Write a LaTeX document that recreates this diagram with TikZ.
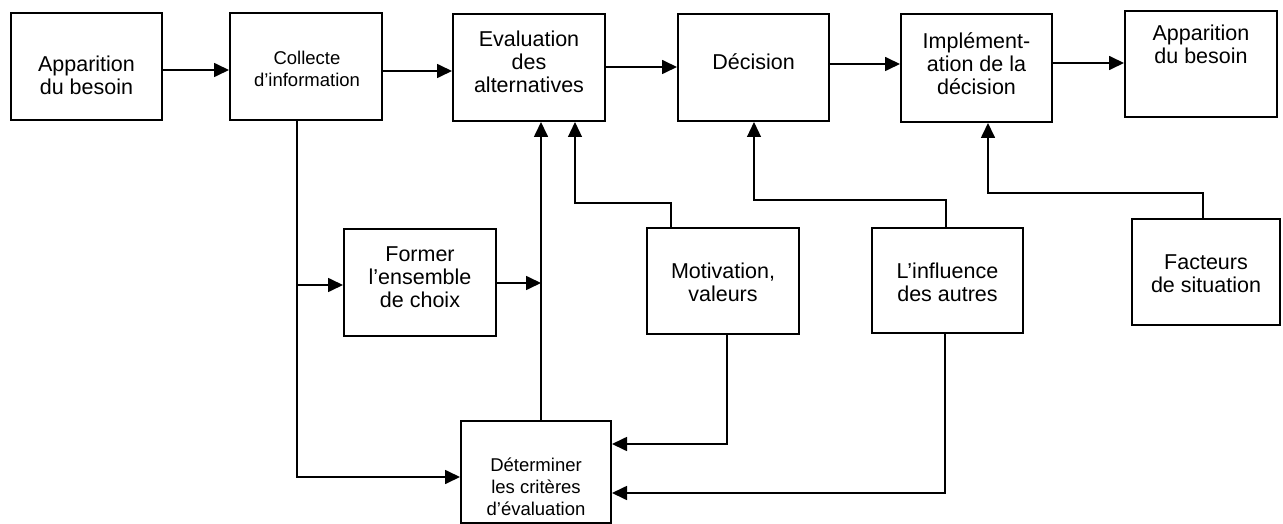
\documentclass[tikz,border=0pt]{standalone}
\usepackage{fontspec}
\setmainfont{Liberation Sans}
\usetikzlibrary{arrows.meta}
\tikzset{
  box/.style={draw=black, line width=2pt, rectangle, inner sep=0pt},
  txt/.style={align=center, inner sep=0pt, font=\fontsize{21.5}{23}\selectfont},
  smalltxt/.style={align=center, inner sep=0pt, font=\fontsize{18.5}{22}\selectfont},
  conn/.style={line width=1.7pt, -{Triangle[length=15pt,width=14pt]}},
  thinconn/.style={line width=1.2pt, -{Triangle[length=15pt,width=14pt]}}
}
\begin{document}
\begin{tikzpicture}[x=1pt,y=-1pt]
\useasboundingbox (0,0) rectangle (1283,524);
\fill[white] (0,0) rectangle (1283,524);

% boxes
\node[box, minimum width=151, minimum height=107] (A1) at (86.5,66.5) {};
\node[box, minimum width=152, minimum height=107] (C)  at (306,66.5) {};
\node[box, minimum width=152, minimum height=107] (E)  at (529,67.5) {};
\node[box, minimum width=151, minimum height=107] (D)  at (753.5,67.5) {};
\node[box, minimum width=151, minimum height=108] (I)  at (976.5,68) {};
\node[box, minimum width=152, minimum height=106] (A2) at (1201,64) {};
\node[box, minimum width=152, minimum height=107] (F)  at (420,282.5) {};
\node[box, minimum width=152, minimum height=106] (M)  at (723,281) {};
\node[box, minimum width=151, minimum height=105] (L)  at (947.5,280.5) {};
\node[box, minimum width=148, minimum height=106] (Fa) at (1206,272) {};
\node[box, minimum width=150, minimum height=102] (Dt) at (536,472) {};

% texts
\node[txt] (A1t) at (86.5,75) {Apparition\\du besoin};
\node[smalltxt] (Ct) at (307,69) {Collecte\\d’information};
\node[txt] (Et) at (529,62) {Evaluation\\des\\alternatives};
\node[txt] (Dtx) at (753.5,62) {Décision};
\node[txt] (It) at (976.5,64) {Implément-\\ation de la\\décision};
\node[txt] (A2t) at (1201,44) {Apparition\\du besoin};
\node[txt] (Ft) at (420,277) {Former\\l’ensemble\\de choix};
\node[txt] (Mt) at (723,282) {Motivation,\\valeurs};
\node[txt] (Lt) at (947.5,282) {L’influence\\des autres};
\node[txt] (Fat) at (1206,274) {Facteurs\\de situation};
\node[smalltxt] (Dtt) at (536,487) {Déterminer\\les critères\\d’évaluation};

% helper coordinates
\coordinate (r1) at (0,70);
\coordinate (r2) at (0,71);
\coordinate (r3) at (0,67);
\coordinate (r4) at (0,64);
\coordinate (r5) at (0,63);
\coordinate (c1) at (297,0);
\coordinate (f1) at (0,285);
\coordinate (c3) at (0,477);
\coordinate (f2) at (0,283);
\coordinate (v1) at (541,0);
\coordinate (m1) at (671,0);
\coordinate (e2) at (575,203);
\coordinate (m2) at (727,0);
\coordinate (m3) at (0,444);
\coordinate (l1) at (946,0);
\coordinate (d1) at (754,200);
\coordinate (l2) at (945,0);
\coordinate (l3) at (0,493);
\coordinate (fa1) at (1203,0);
\coordinate (i1) at (988,193);

% top row
\draw[conn] (A1.east |- r1) -- (C.west |- r1);
\draw[conn] (C.east |- r2) -- (E.west |- r2);
\draw[conn] (E.east |- r3) -- (D.west |- r3);
\draw[conn] (D.east |- r4) -- (I.west |- r4);
\draw[conn] (I.east |- r5) -- (A2.west |- r5);

% collecte branch
\draw[conn] (C.south -| c1) |- (c3 -| Dt.west);
\draw[conn] (c1 |- f1) -- (F.west |- f1);
\draw[conn] (F.east |- f2) -- (v1 |- f2);
\draw[conn] (Dt.north -| v1) -- (E.south -| v1);

% motivation
\draw[thinconn] (M.north -| m1) |- (e2) -- (e2 |- E.south);
\draw[conn] (M.south -| m2) |- (m3 -| Dt.east);

% influence
\draw[thinconn] (L.north -| l1) |- (d1) -- (d1 |- D.south);
\draw[conn] (L.south -| l2) |- (l3 -| Dt.east);

% facteurs
\draw[conn] (Fa.north -| fa1) |- (i1) -- (i1 |- I.south);
\end{tikzpicture}
\end{document}
